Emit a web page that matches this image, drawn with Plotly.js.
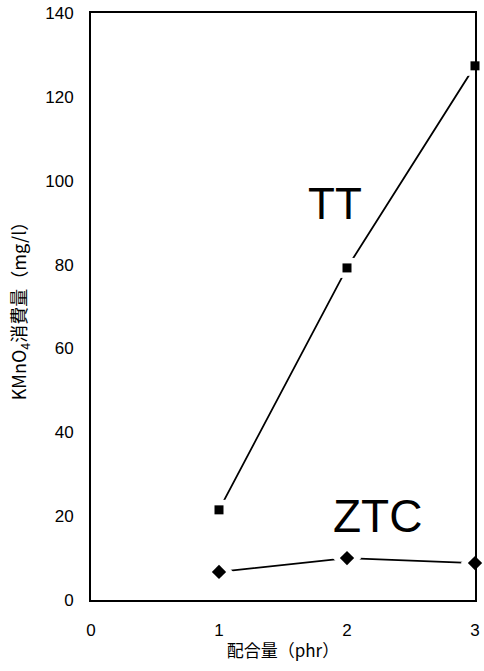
<!DOCTYPE html>
<html>
<head>
<meta charset="utf-8">
<script src="https://cdn.plot.ly/plotly-3.0.1.min.js"></script>
<style>html,body{margin:0;padding:0;background:#fff;}#chart{width:484px;height:671px;}</style>
</head>
<body>
<div id="chart"></div>
<script>
const doses = [1, 2, 3];
const ttValues = [21.5, 79.2, 127.4];
const ztcValues = [6.7, 10.0, 8.8];
const xTicks = [0, 1, 2, 3];
const yTicks = [0, 20, 40, 60, 80, 100, 120, 140];
const seriesLabels = ["TT", "ZTC"];

const fontFam = "'Liberation Sans', Arial, 'Noto Sans CJK JP', sans-serif";
const cjkFam = "'Noto Sans CJK JP', 'Liberation Sans', sans-serif";

const traces = [
  {x: doses, y: ttValues, mode: 'lines', line: {color: '#000', width: 1.8}, hoverinfo: 'skip'},
  {x: doses, y: ztcValues, mode: 'lines', line: {color: '#000', width: 1.8}, hoverinfo: 'skip'},
  {x: doses, y: ttValues, mode: 'markers', marker: {symbol: 'square', size: 20, color: '#fff'}, cliponaxis: false},
  {x: doses, y: ztcValues, mode: 'markers', marker: {symbol: 'diamond', size: 22, color: '#fff'}, cliponaxis: false},
  {x: doses, y: ttValues, mode: 'markers', marker: {symbol: 'square', size: 9, color: '#000'}, cliponaxis: false},
  {x: doses, y: ztcValues, mode: 'markers', marker: {symbol: 'diamond', size: 11, color: '#000'}, cliponaxis: false}
];

const layout = {
  width: 484, height: 671,
  margin: {l: 91, r: 9, t: 13, b: 71},
  showlegend: false,
  paper_bgcolor: '#fff', plot_bgcolor: '#fff',
  font: {family: fontFam, color: '#000'},
  xaxis: {
    range: [0, 3], tickvals: xTicks, ticktext: xTicks.map(String),
    showgrid: false, zeroline: false, showline: true, mirror: true,
    linecolor: '#000', linewidth: 2, ticks: '', ticklabelstandoff: 14,
    tickfont: {size: 17, family: fontFam},
    title: {text: '配合量（phr）', font: {size: 17, family: cjkFam}, standoff: 6}
  },
  yaxis: {
    range: [0, 140], tickvals: yTicks, ticktext: yTicks.map(String),
    showgrid: false, zeroline: false, showline: true, mirror: true,
    linecolor: '#000', linewidth: 2, ticks: '', ticklabelstandoff: 12,
    tickfont: {size: 17, family: fontFam},
    title: {text: 'KMnO<sub>4</sub>消費量（mg/l）', font: {size: 18, family: cjkFam}, standoff: 14}
  },
  annotations: [
    {x: 1.91, y: 94.5, xref: 'x', yref: 'y', text: seriesLabels[0], showarrow: false, font: {size: 44, family: fontFam}},
    {x: 2.24, y: 20, xref: 'x', yref: 'y', text: seriesLabels[1], showarrow: false, font: {size: 46, family: fontFam}}
  ]
};

Plotly.newPlot('chart', traces, layout, {displayModeBar: false, staticPlot: true});
</script>
</body>
</html>
